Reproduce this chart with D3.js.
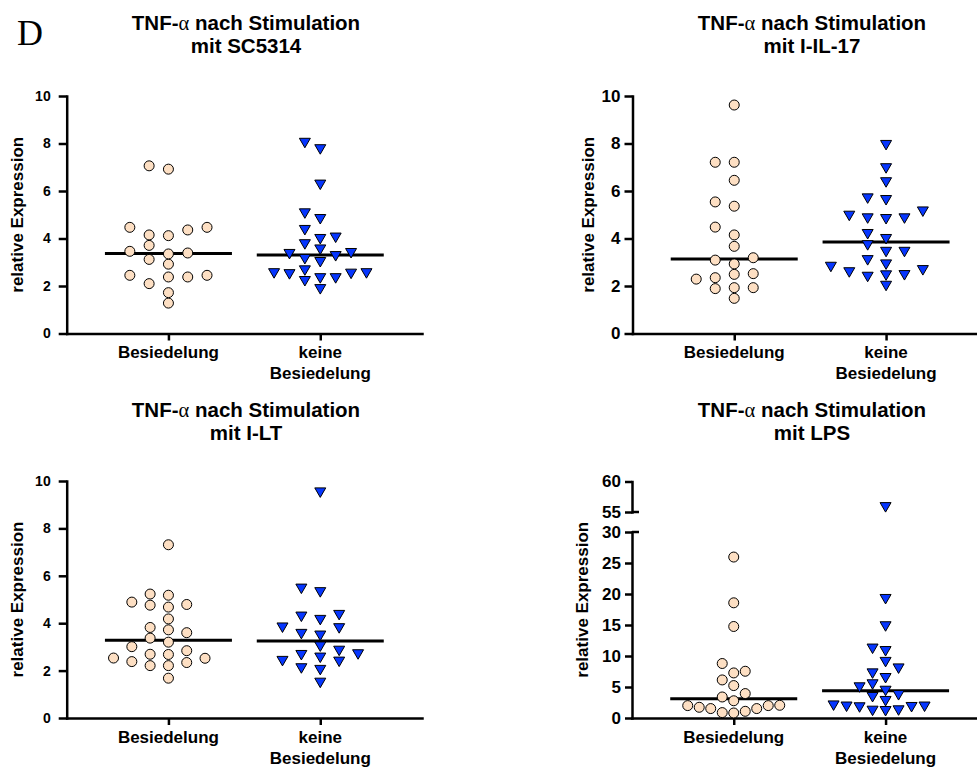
<!DOCTYPE html>
<html><head><meta charset="utf-8">
<script src="https://cdn.jsdelivr.net/npm/d3@7"></script>
<style>body{margin:0;background:#fff}svg{display:block}</style>
</head><body>
<svg id="c" width="977" height="767"></svg>
<script>
// ---------- data ----------
const categories = ["Besiedelung", "keine Besiedelung"];
const categoryLabels = [["Besiedelung"], ["keine", "Besiedelung"]];
const titlePrefix = "TNF-";
const titleGreek = "\u03b1";
const titleSuffix = " nach Stimulation";
const stimuli = ["mit SC5314", "mit I-IL-17", "mit I-LT", "mit LPS"];
const panelLetter = "D";
const yAxisTitle = "relative Expression";
const yTicksStd = [0, 2, 4, 6, 8, 10];
const yTicksLpsLow = [0, 5, 10, 15, 20, 25, 30];
const yTicksLpsHigh = [55, 60];

const sc5314Besiedelung = [7.06, 6.92, 4.47, 4.12, 4.36, 4.15, 4.47, 3.71, 3.12, 3.35, 3.39, 3.46, 2.92, 2.38, 2.45, 2.38, 2.45, 2.10, 1.72, 1.28];
const sc5314Keine = [8.03, 7.76, 6.27, 5.06, 4.82, 4.36, 3.98, 4.04, 3.76, 3.54, 3.35, 3.26, 3.39, 3.14, 3.01, 2.54, 2.33, 2.54, 2.52, 2.66, 2.21, 2.33, 2.50, 1.87];
const il17Besiedelung = [9.62, 7.21, 7.21, 6.45, 5.54, 5.36, 4.48, 4.15, 3.67, 3.09, 3.19, 2.93, 2.29, 2.35, 2.49, 2.52, 1.93, 1.93, 1.89, 1.48];
const il17Keine = [7.94, 6.96, 6.37, 5.69, 5.62, 4.85, 4.96, 4.82, 4.85, 5.14, 4.19, 3.98, 3.72, 3.44, 3.44, 3.09, 2.67, 2.81, 2.91, 2.46, 2.58, 2.45, 2.39, 2.01];
const iltBesiedelung = [7.31, 5.18, 5.23, 4.89, 4.68, 4.79, 4.76, 4.18, 3.60, 3.72, 3.82, 3.20, 3.37, 3.01, 2.52, 2.38, 2.69, 2.84, 2.68, 2.53, 2.21, 2.34, 2.21, 1.68];
const iltKeine = [9.52, 5.31, 5.46, 4.28, 4.14, 4.35, 3.79, 3.82, 3.48, 3.55, 3.02, 2.84, 2.69, 2.55, 2.66, 2.41, 2.38, 2.03, 2.10, 1.49];
const lpsBesiedelung = [25.96, 18.58, 14.76, 8.79, 7.54, 7.27, 6.14, 5.23, 3.94, 3.39, 1.52, 2.05, 1.73, 2.00, 2.00, 1.08, 1.52, 2.78, 0.87, 0.81];
const lpsKeine = [55.8, 19.2, 14.8, 11.2, 10.8, 9.05, 8.0, 7.2, 6.45, 5.44, 4.95, 4.4, 3.7, 2.75, 3.39, 1.24, 2.03, 1.73, 1.85, 1.13, 1.85, 1.18, 1.78];

// ---------- layout / style ----------
const FONT = "'Liberation Sans', Arial, Helvetica, sans-serif";
const SERIF = "'Liberation Serif', 'Times New Roman', serif";
const CIRCLE_FILL = "#FDDFC3";
const TRI_FILL = "#0636FF";
const AXIS_W = 2.5;
const PLOT_W = 355.3;

const panels = [
  {data: [sc5314Besiedelung, sc5314Keine], stim: stimuli[0], ox: 66.7, yb: 333.5, yt: 96, tx: 246, ty: 30,
   tickFont: 14, tickPad: 8, ylabX: 22.5, slots: [19.3, 15.4]},
  {data: [il17Besiedelung, il17Keine], stim: stimuli[1], ox: 632.5, yb: 333.5, yt: 96, tx: 812, ty: 30,
   tickFont: 17, tickPad: 4, ylabX: 594, slots: [19, 18.4]},
  {data: [iltBesiedelung, iltKeine], stim: stimuli[2], ox: 66.7, yb: 718, yt: 481, tx: 246, ty: 417,
   tickFont: 14, tickPad: 8, ylabX: 22.5, slots: [18.3, 18.9]},
  {data: [lpsBesiedelung, lpsKeine], stim: stimuli[3], ox: 632, yb: 718, yt: 481.5, tx: 812, ty: 417,
   tickFont: 17, tickPad: 4, ylabX: 587.5, slots: [11.5, 13], broken: true}
];

const svg = d3.select("#c");

svg.append("text").attr("x", 17).attr("y", 45)
  .attr("font-family", SERIF).attr("font-size", 36).attr("fill", "#000").text(panelLetter);

function swarm(values, yScale, s, h) {
  const pts = values.map((v, i) => ({v, y: yScale(v), i})).sort((a, b) => b.y - a.y);
  const placed = [];
  for (const p of pts) {
    for (let k = 0; k < 60; k++) {
      const off = k === 0 ? 0 : (k % 2 ? -1 : 1) * Math.ceil(k / 2) * 0.5;
      const hit = placed.some(q => Math.abs(q.off - off) * s < s - 0.01 && Math.abs(q.y - p.y) < h);
      if (!hit) { p.off = off; break; }
    }
    placed.push(p);
  }
  return placed.map(p => ({v: p.v, y: p.y, dx: p.off * s}));
}

const triPath = "M-5.5,-4.5L5.5,-4.5L0,5Z";
const fmtInt = d3.format("d");

function styleAxis(g, fontSize) {
  g.selectAll("path.domain").attr("stroke", "#000").attr("stroke-width", AXIS_W).attr("stroke-linecap", "square");
  g.selectAll(".tick line").attr("stroke", "#000").attr("stroke-width", AXIS_W);
  g.selectAll(".tick text").attr("font-family", FONT).attr("font-weight", "bold")
    .attr("font-size", fontSize).attr("fill", "#000");
}

panels.forEach(P => {
  const g = svg.append("g");
  const x = d3.scalePoint().domain(categories).range([P.ox, P.ox + PLOT_W]).padding(0.67);

  let yPts;
  if (P.broken) {
    const yLow = d3.scaleLinear().domain([0, 30]).range([P.yb, 532]);
    const yHigh = d3.scaleLinear().domain([55, 60]).range([512, P.yt]);
    yPts = d3.scaleLinear().domain([0, 30, 55, 60]).range([P.yb, 532, 512, P.yt]);
    const aL = g.append("g").attr("transform", `translate(${P.ox},0)`)
      .call(d3.axisLeft(yLow).tickValues(yTicksLpsLow).tickFormat(fmtInt).tickSize(7).tickSizeOuter(0).tickPadding(P.tickPad));
    styleAxis(aL, P.tickFont);
    const aH = g.append("g").attr("transform", `translate(${P.ox},0)`)
      .call(d3.axisLeft(yHigh).tickValues(yTicksLpsHigh).tickFormat(fmtInt).tickSize(7).tickSizeOuter(0).tickPadding(P.tickPad));
    styleAxis(aH, P.tickFont);
    // break caps
    [yLow(30), yHigh(55)].forEach(yy => {
      g.append("line").attr("x1", P.ox).attr("x2", P.ox + 7).attr("y1", yy).attr("y2", yy)
        .attr("stroke", "#000").attr("stroke-width", AXIS_W);
    });
  } else {
    yPts = d3.scaleLinear().domain([0, 10]).range([P.yb, P.yt]);
    const a = g.append("g").attr("transform", `translate(${P.ox},0)`)
      .call(d3.axisLeft(yPts).tickValues(yTicksStd).tickFormat(fmtInt).tickSize(8).tickSizeOuter(0).tickPadding(P.tickPad));
    styleAxis(a, P.tickFont);
  }

  const ax = g.append("g").attr("transform", `translate(0,${P.yb})`)
    .call(d3.axisBottom(x).tickSize(7).tickSizeOuter(0).tickFormat(""));
  styleAxis(ax, 14);

  // category labels
  categories.forEach((c, ci) => {
    categoryLabels[ci].forEach((line, li) => {
      g.append("text").attr("x", x(c)).attr("y", P.yb + 24.5 + li * 21)
        .attr("text-anchor", "middle").attr("font-family", FONT).attr("font-weight", "bold")
        .attr("font-size", 17).attr("fill", "#000").text(line);
    });
  });

  // y axis title
  g.append("text").attr("transform", `translate(${P.ylabX},${(P.yb + P.yt) / 2}) rotate(-90)`)
    .attr("text-anchor", "middle").attr("font-family", FONT).attr("font-weight", "bold")
    .attr("font-size", 17).attr("fill", "#000").text(yAxisTitle);

  // title
  const t1 = g.append("text").attr("x", P.tx).attr("y", P.ty).attr("text-anchor", "middle")
    .attr("font-family", FONT).attr("font-weight", "bold").attr("font-size", 20.5).attr("fill", "#000");
  t1.append("tspan").text(titlePrefix);
  t1.append("tspan").attr("font-family", SERIF).attr("font-weight", "normal").text(titleGreek);
  t1.append("tspan").text(titleSuffix);
  g.append("text").attr("x", P.tx).attr("y", P.ty + 23.3).attr("text-anchor", "middle")
    .attr("font-family", FONT).attr("font-weight", "bold").attr("font-size", 20.5).attr("fill", "#000")
    .text(P.stim);

  // medians + points
  P.data.forEach((vals, gi) => {
    const cx = x(categories[gi]);
    const med = d3.median(vals);
    g.append("line").attr("x1", cx - 63.5).attr("x2", cx + 63.5)
      .attr("y1", yPts(med)).attr("y2", yPts(med)).attr("stroke", "#000").attr("stroke-width", 3);
    const pts = swarm(vals, yPts, P.slots[gi], 10);
    if (gi === 0) {
      g.selectAll(null).data(pts).enter().append("circle")
        .attr("cx", d => cx + d.dx).attr("cy", d => d.y).attr("r", 5)
        .attr("fill", CIRCLE_FILL).attr("stroke", "#000").attr("stroke-width", 1);
    } else {
      g.selectAll(null).data(pts).enter().append("path")
        .attr("d", triPath).attr("transform", d => `translate(${cx + d.dx},${d.y})`)
        .attr("fill", TRI_FILL).attr("stroke", "#000").attr("stroke-width", 1).attr("stroke-linejoin", "round");
    }
  });
});
</script>
</body></html>
